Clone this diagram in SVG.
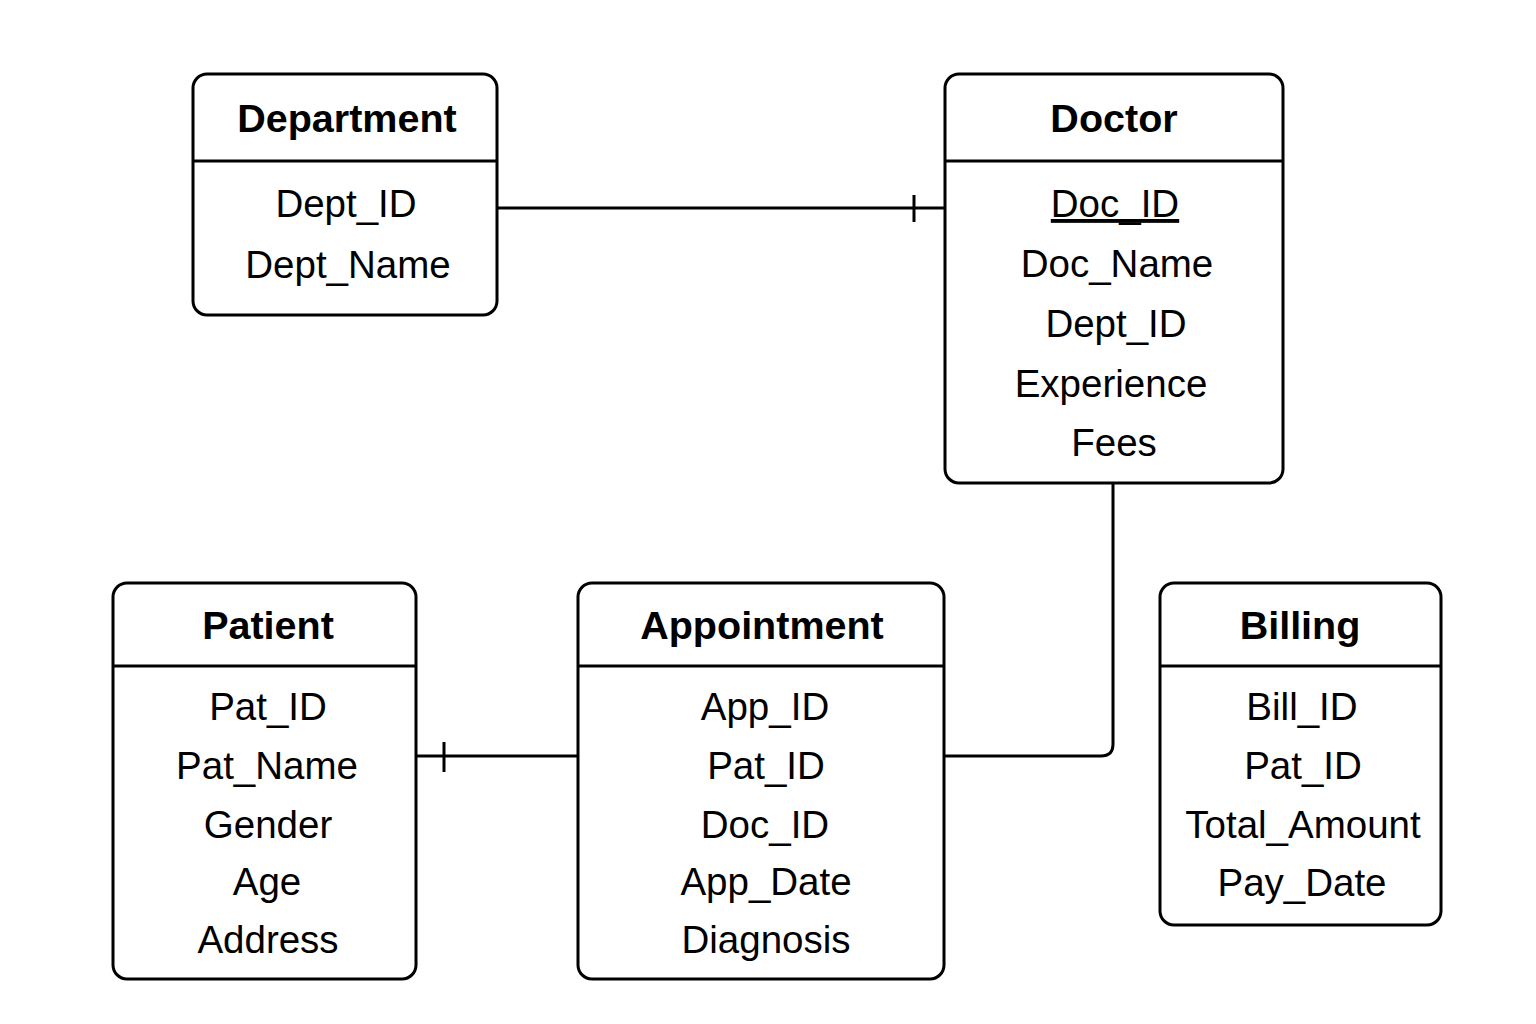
<svg xmlns="http://www.w3.org/2000/svg" width="1536" height="1024" viewBox="0 0 1536 1024">
<style>
.box{fill:#fff;stroke:#000;stroke-width:3}
.sep{stroke:#000;stroke-width:3}
.t{font-family:"Liberation Sans",Arial,sans-serif;font-weight:bold;font-size:39.5px;text-anchor:middle;fill:#000}
.a{font-family:"Liberation Sans",Arial,sans-serif;font-size:38.5px;text-anchor:middle;fill:#000}
.c{fill:none;stroke:#000;stroke-width:3}
</style>
<rect width="1536" height="1024" fill="#fff"/>
<g id="connectors">
<path class="c" d="M497 208 H945"/>
<path class="c" d="M914 195 V222"/>
<path class="c" d="M1113 483 V744 Q1113 756 1101 756 H944"/>
<path class="c" d="M416 756 H578"/>
<path class="c" d="M444 742 V772"/>
</g>
<g id="department">
<rect class="box" x="193" y="74" width="304" height="241" rx="14"/>
<line class="sep" x1="193" y1="161" x2="497" y2="161"/>
<text class="t" x="347" y="132">Department</text>
<text class="a" x="346" y="217">Dept_ID</text>
<text class="a" x="348" y="278">Dept_Name</text>
</g>
<g id="doctor">
<rect class="box" x="945" y="74" width="338" height="409" rx="14"/>
<line class="sep" x1="945" y1="161" x2="1283" y2="161"/>
<text class="t" x="1114" y="132">Doctor</text>
<text class="a" x="1115" y="217" text-decoration="underline">Doc_ID</text>
<text class="a" x="1117" y="277">Doc_Name</text>
<text class="a" x="1116" y="337">Dept_ID</text>
<text class="a" x="1111" y="397">Experience</text>
<text class="a" x="1114" y="456">Fees</text>
</g>
<g id="patient">
<rect class="box" x="113" y="583" width="303" height="396" rx="14"/>
<line class="sep" x1="113" y1="666" x2="416" y2="666"/>
<text class="t" x="268" y="639">Patient</text>
<text class="a" x="268" y="720">Pat_ID</text>
<text class="a" x="267" y="779">Pat_Name</text>
<text class="a" x="268" y="838">Gender</text>
<text class="a" x="267" y="895">Age</text>
<text class="a" x="268" y="953">Address</text>
</g>
<g id="appointment">
<rect class="box" x="578" y="583" width="366" height="396" rx="14"/>
<line class="sep" x1="578" y1="666" x2="944" y2="666"/>
<text class="t" x="762" y="639">Appointment</text>
<text class="a" x="765" y="720">App_ID</text>
<text class="a" x="766" y="779">Pat_ID</text>
<text class="a" x="765" y="838">Doc_ID</text>
<text class="a" x="766" y="895">App_Date</text>
<text class="a" x="766" y="953">Diagnosis</text>
</g>
<g id="billing">
<rect class="box" x="1160" y="583" width="281" height="342" rx="14"/>
<line class="sep" x1="1160" y1="666" x2="1441" y2="666"/>
<text class="t" x="1300" y="639">Billing</text>
<text class="a" x="1302" y="720">Bill_ID</text>
<text class="a" x="1303" y="779">Pat_ID</text>
<text class="a" x="1303" y="838">Total_Amount</text>
<text class="a" x="1302" y="896">Pay_Date</text>
</g>
</svg>
